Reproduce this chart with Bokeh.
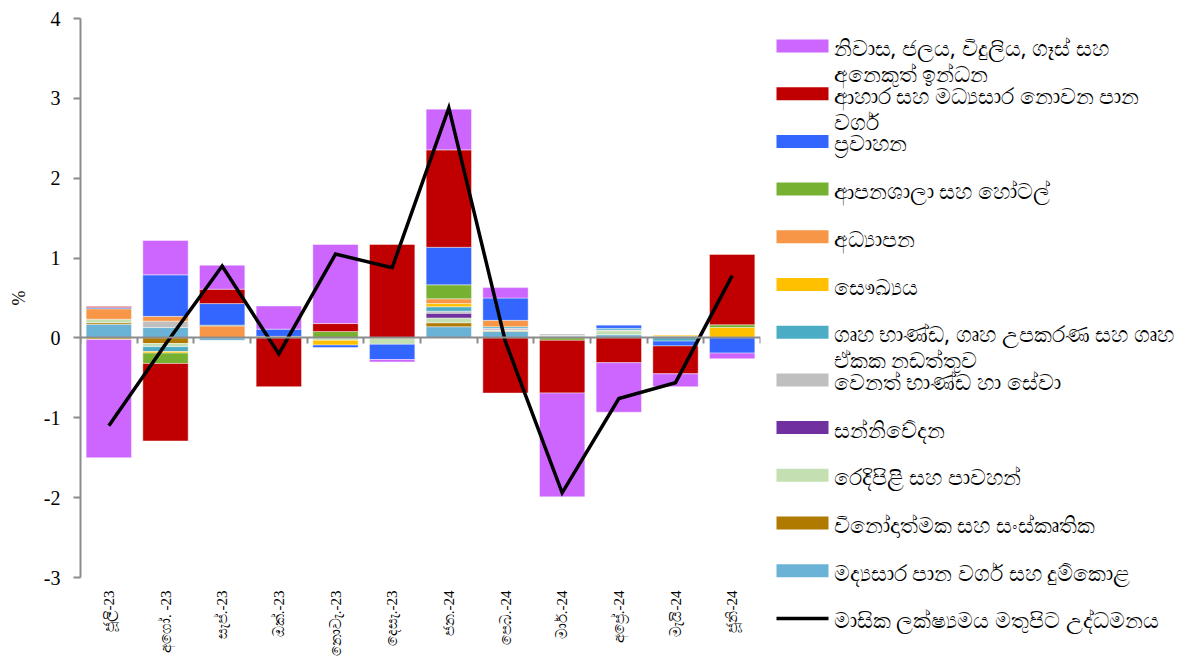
import numpy as np
from bokeh.plotting import figure
from bokeh.models import Range1d, FixedTicker, LinearAxis, ColumnDataSource
from bokeh.layouts import row
from bokeh.embed import file_html
from bokeh.resources import INLINE
from bokeh.core.properties import value

# ---------------- data ----------------
months = ["ජූලි-23", "අගෝ. -23", "සැප්.-23", "ඔක්.-23", "නොවැ.-23", "දෙසැ.-23",
          "ජන.-24", "පෙබ.-24", "මාර්.-24", "අප්‍රේ.-24", "මැයි-24", "ජූනි-24"]

# contributions (percentage points), stacking order bottom -> top
alcohol_tobacco = [0.17, 0.13, -0.03, 0.00, 0.00, 0.00, 0.14, 0.08, 0.02, 0.04, 0.02, 0.01]
recreation      = [0.02, -0.07, 0.00, 0.01, 0.00, 0.00, 0.05, 0.01, 0.00, 0.00, 0.00, 0.00]
clothing        = [0.045, -0.04, 0.00, 0.00, -0.03, -0.08, 0.06, 0.01, 0.01, 0.05, 0.00, 0.00]
communication   = [0.00, 0.00, 0.00, 0.00, 0.00, 0.00, 0.06, 0.01, 0.00, 0.00, 0.00, 0.00]
misc_goods      = [0.00, 0.08, 0.00, 0.00, 0.00, 0.00, 0.025, 0.01, 0.02, 0.01, 0.00, 0.00]
furnishings     = [0.00, -0.06, 0.00, 0.00, 0.00, 0.00, 0.055, 0.02, 0.00, 0.02, -0.04, 0.00]
health          = [-0.02, -0.02, 0.00, 0.01, -0.06, 0.00, 0.04, 0.00, 0.00, 0.00, 0.015, 0.12]
education       = [0.13, 0.06, 0.15, 0.00, 0.00, 0.00, 0.06, 0.08, 0.00, 0.00, 0.00, 0.00]
restaurants     = [0.00, -0.13, 0.01, 0.00, 0.08, 0.00, 0.175, 0.00, -0.03, 0.00, 0.00, 0.035]
transport       = [0.015, 0.52, 0.27, 0.09, -0.03, -0.19, 0.47, 0.28, 0.00, 0.04, -0.06, -0.19]
food            = [0.012, -0.97, 0.18, -0.61, 0.10, 1.17, 1.22, -0.69, -0.66, -0.31, -0.35, 0.88]
housing         = [-1.48, 0.43, 0.30, 0.29, 0.99, -0.03, 0.51, 0.13, -1.30, -0.62, -0.16, -0.07]

headline_mom = [-1.10, -0.08, 0.90, -0.20, 1.05, 0.88, 2.88, -0.05, -1.94, -0.76, -0.56, 0.78]

y_ticks = [-3, -2, -1, 0, 1, 2, 3, 4]
y_tick_labels = ["-3", "-2", "-1", "0", "1", "2", "3", "4"]

series_names = [
    "මද්‍යසාර පාන වර්ග සහ දුම්කොළ",
    "විනෝදාත්මක සහ සංස්කෘතික",
    "රෙදිපිළි සහ පාවහන්",
    "සන්නිවේදන",
    "වෙනත් භාණ්ඩ හා සේවා",
    "ගෘහ භාණ්ඩ, ගෘහ උපකරණ සහ ගෘහ\nඒකක නඩත්තුව",
    "සෞඛ්‍යය",
    "අධ්‍යාපන",
    "ආපනශාලා සහ හෝටල්",
    "ප්‍රවාහන",
    "ආහාර සහ මධ්‍යසාර නොවන පාන\nවර්ග",
    "නිවාස, ජලය, විදුලිය, ගෑස් සහ\nඅනෙකුත් ඉන්ධන",
]
series_values = [alcohol_tobacco, recreation, clothing, communication, misc_goods,
                 furnishings, health, education, restaurants, transport, food, housing]
line_name = "මාසික ලක්ෂ්‍යමය මතුපිට උද්ධමනය"

# ---------------- styles ----------------
series_colors = ["#6BB3D6", "#B07A00", "#C4E0B2", "#7030A0", "#BFBFBF", "#4BACC6",
                 "#FFC000", "#F79646", "#77B132", "#3366FF", "#C00000", "#CC66FF"]
AXIS_GREY = "#8C8C8C"
SERIF = "Liberation Serif"
SINH = "Noto Sans"

n = len(months)
xs = np.arange(n)

p = figure(width=768, height=661, x_range=Range1d(-0.5, n - 0.5),
           y_range=Range1d(min(y_ticks), max(y_ticks)),
           output_backend="svg", toolbar_location=None, title=None,
           min_border_left=80, min_border_right=8, min_border_top=18,
           min_border_bottom=84)
p.frame_align = False
p.outline_line_color = None
p.xgrid.visible = False
p.ygrid.visible = False

pos_base = np.zeros(n)
neg_base = np.zeros(n)
for vals, color in zip(series_values, series_colors):
    v = np.array(vals, dtype=float)
    pos = np.where(v > 0, v, 0.0)
    neg = np.where(v < 0, v, 0.0)
    bx, bb, bt = [], [], []
    for i in range(n):
        if pos[i] > 0:
            bx.append(xs[i]); bb.append(pos_base[i]); bt.append(pos_base[i] + pos[i])
        if neg[i] < 0:
            bx.append(xs[i]); bb.append(neg_base[i]); bt.append(neg_base[i] + neg[i])
    src = ColumnDataSource(dict(x=bx, bottom=bb, top=bt))
    p.vbar(x="x", bottom="bottom", top="top", width=0.8, source=src,
           fill_color=color, line_color="white", line_width=0.6, line_alpha=0.7)
    pos_base += pos
    neg_base += neg

p.line(xs, headline_mom, line_color="black", line_width=3.5, line_join="miter")

# bottom axis: month labels only
xa = p.xaxis[0]
xa.ticker = FixedTicker(ticks=list(xs))
xa.major_label_overrides = {int(i): m for i, m in zip(xs, months)}
xa.major_label_orientation = np.pi / 2
xa.axis_line_color = None
xa.major_tick_line_color = None
xa.major_tick_out = 0
xa.major_tick_in = 0
xa.minor_tick_line_color = None
xa.major_label_standoff = 13
xa.major_label_text_font = SERIF
xa.major_label_text_font_size = "15px"
xa.major_label_text_color = "black"

# zero line axis with ticks between categories
zero_axis = LinearAxis(ticker=FixedTicker(ticks=list(xs - 0.5) + [n - 0.5]),
                       fixed_location=0)
zero_axis.axis_line_color = AXIS_GREY
zero_axis.axis_line_width = 2
zero_axis.major_tick_line_color = AXIS_GREY
zero_axis.major_tick_line_width = 2
zero_axis.major_tick_out = 6
zero_axis.major_tick_in = 0
zero_axis.minor_tick_line_color = None
zero_axis.major_label_text_alpha = 0
zero_axis.major_label_text_font_size = "1px"
p.add_layout(zero_axis, "below")

ya = p.yaxis[0]
ya.ticker = FixedTicker(ticks=y_ticks)
ya.major_label_overrides = {t: s for t, s in zip(y_ticks, y_tick_labels)}
ya.axis_line_color = AXIS_GREY
ya.axis_line_width = 2
ya.major_tick_line_color = AXIS_GREY
ya.major_tick_line_width = 2
ya.major_tick_out = 7
ya.major_tick_in = 0
ya.minor_tick_line_color = None
ya.major_label_text_font = SERIF
ya.major_label_text_font_size = "20px"
ya.major_label_text_color = "black"
ya.major_label_standoff = 13
ya.axis_label = "%"
ya.axis_label_text_font = SERIF
ya.axis_label_text_font_size = "18px"
ya.axis_label_text_font_style = "normal"
ya.axis_label_text_color = "black"
ya.axis_label_standoff = 12

# ---------------- legend panel ----------------
LW, LH = 410, 661
lg = figure(width=LW, height=LH, x_range=Range1d(0, LW), y_range=Range1d(LH, 0),
            output_backend="svg", toolbar_location=None, title=None,
            min_border=0, min_border_left=0, min_border_right=0,
            min_border_top=0, min_border_bottom=0,
            x_axis_type=None, y_axis_type=None)
lg.frame_align = False
lg.outline_line_color = None
lg.xgrid.visible = False
lg.ygrid.visible = False

first_y, step = 45.5, 47.7
sw_x0, sw_w, sw_h, txt_x, line_gap = 8, 52, 13, 65, 26
order = list(range(len(series_names)))[::-1]
rx, ry, rc, tx, ty, tt = [], [], [], [], [], []
for k, si in enumerate(order):
    yc = first_y + step * k
    rx.append(sw_x0 + sw_w / 2); ry.append(yc); rc.append(series_colors[si])
    for j, part in enumerate(series_names[si].split("\n")):
        tx.append(txt_x); ty.append(yc + 1 + j * line_gap); tt.append(part)
lg.rect(x=rx, y=ry, width=sw_w, height=sw_h, fill_color=rc, line_color=None)
yl = first_y + step * len(order)
lg.segment(x0=[sw_x0], y0=[yl], x1=[sw_x0 + sw_w], y1=[yl], line_color="black",
           line_width=3.5)
tx.append(txt_x); ty.append(yl + 1); tt.append(line_name)
lg.text(x=tx, y=ty, text=tt, text_font=value(SINH), text_font_size="22px",
        text_baseline="middle", text_align="left", text_color="black")

layout = row(p, lg)
open("out.html", "w").write(file_html(layout, INLINE))
